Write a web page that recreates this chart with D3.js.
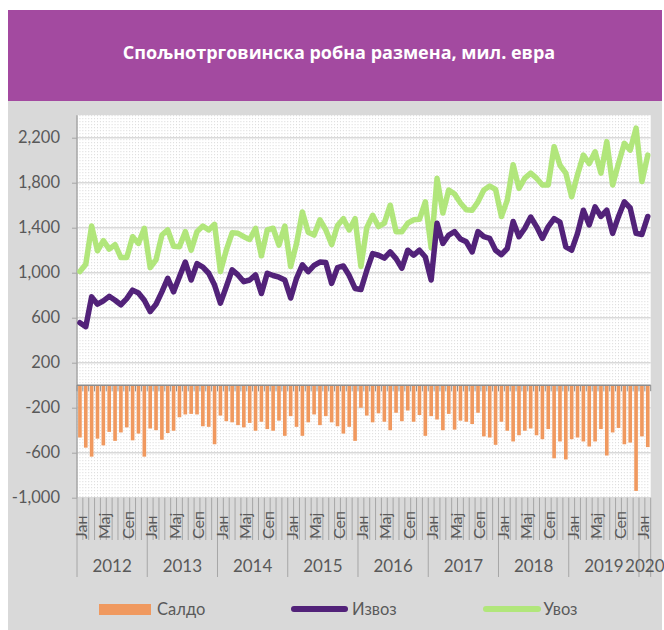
<!DOCTYPE html>
<html>
<head>
<meta charset="utf-8">
<script src="https://cdn.jsdelivr.net/npm/d3@7"></script>
<style>
  body { margin: 0; background: #fff; }
  text { font-family: Lato, "Open Sans", sans-serif; }
</style>
</head>
<body>
<div id="chart"></div>
<script>
// Data, mil. EUR, monthly Jan 2012 - Feb 2020
var years = [2012, 2013, 2014, 2015, 2016, 2017, 2018, 2019, 2020];
var monthNames = ["Јан", "Феб", "Мар", "Апр", "Мај", "Јун", "Јул", "Авг", "Сеп", "Окт", "Нов", "Дец"];
var seriesNames = ["Салдо", "Извоз", "Увоз"];
var yTicks = [-1000, -600, -200, 200, 600, 1000, 1400, 1800, 2200];

var izvoz = [555, 520, 785, 720, 750, 790, 755, 715, 770, 845, 820, 755,
  655, 720, 830, 950, 830, 965, 1095, 935, 1080, 1050, 995, 890,
  730, 875, 1025, 980, 920, 935, 980, 815, 995, 975, 960, 935,
  775, 950, 1070, 1010, 1065, 1095, 1090, 905, 1045, 1060, 975, 860,
  850, 1020, 1170, 1155, 1130, 1185, 1125, 1040, 1200, 1155, 1200, 1140,
  935, 1440, 1260, 1335, 1365, 1300, 1275, 1185, 1365, 1320, 1305, 1200,
  1160, 1215, 1455, 1320, 1395, 1495, 1410, 1305, 1410, 1480, 1450, 1230,
  1200, 1350, 1555, 1425, 1585, 1500, 1555, 1350, 1500, 1630, 1575, 1350,
  1340, 1500];

var uvoz = [1010, 1075, 1415, 1195, 1285, 1210, 1250, 1135, 1135, 1320, 1260, 1395,
  1045, 1115, 1335, 1380, 1235, 1230, 1365, 1200, 1365, 1415, 1380, 1430,
  1010, 1200, 1355, 1350, 1320, 1295, 1395, 1150, 1380, 1395, 1245, 1415,
  1055, 1260, 1540, 1360, 1335, 1470, 1380, 1250, 1420, 1480, 1380, 1480,
  1055, 1400, 1510, 1410, 1440, 1600, 1365, 1365, 1440, 1470, 1475, 1630,
  1220, 1840, 1530, 1735, 1700, 1620, 1560, 1555, 1630, 1735, 1770, 1740,
  1500, 1645, 1960, 1750, 1840, 1885, 1840, 1780, 1780, 2120, 1955, 1885,
  1675, 1870, 2045, 1970, 2075, 1885, 2165, 1780, 1970, 2150, 2090, 2285,
  1810, 2045];

var saldo = [-465, -555, -635, -475, -535, -415, -495, -420, -375, -490, -430, -635,
  -385, -400, -485, -425, -405, -285, -260, -255, -260, -365, -370, -525,
  -270, -320, -330, -355, -375, -335, -405, -325, -390, -405, -315, -450,
  -275, -370, -450, -330, -260, -355, -275, -330, -365, -430, -370, -495,
  -200, -270, -330, -250, -325, -400, -245, -320, -225, -325, -265, -450,
  -275, -305, -400, -255, -395, -315, -325, -345, -245, -455, -465, -530,
  -325, -405, -500, -445, -405, -385, -445, -480, -390, -650, -500, -660,
  -480, -465, -500, -545, -500, -390, -625, -420, -380, -525, -510, -940,
  -455, -550];

var W = 664, H = 630;
var plot = {left: 77, right: 650.7, top: 115.2, bottom: 497.7};
var colors = {saldo: "#F0995F", izvoz: "#522279", uvoz: "#B1E67B", text: "#595959"};

var fmt = d3.formatLocale({decimal: ".", thousands: ",", grouping: [3], currency: ["", ""], minus: "-"}).format(",");

var svg = d3.select("#chart").append("svg")
  .attr("width", W)
  .attr("height", H);

// Banner + panel
svg.append("rect").attr("x", 8).attr("y", 10).attr("width", 654).attr("height", 91).attr("fill", "#A34AA0");
svg.append("rect").attr("x", 8).attr("y", 101).attr("width", 654).attr("height", H - 101).attr("fill", "#D9D9D9");

svg.append("text")
  .attr("x", 339).attr("y", 59)
  .attr("text-anchor", "middle")
  .attr("fill", "#fff")
  .style("font-family", "'Open Sans', sans-serif")
  .style("font-weight", "bold")
  .style("font-size", "18px")
  .text("Спољнотрговинска робна размена, мил. евра");

// Scales
var idx = d3.range(izvoz.length);
var x = d3.scaleBand().domain(idx).range([plot.left, plot.right]);
var y = d3.scaleLinear().domain([-1000, 2400]).range([plot.bottom, plot.top]);
var bw = x.bandwidth();

// Plot area
svg.append("rect")
  .attr("x", plot.left).attr("y", plot.top)
  .attr("width", plot.right - plot.left).attr("height", plot.bottom - plot.top)
  .attr("fill", "#fff");

// dotted texture
var dots = [];
idx.forEach(function(i) { dots.push(x(i)); dots.push(x(i) + bw / 2); });
svg.append("g").selectAll("line").data(dots).enter().append("line")
  .attr("x1", function(d) { return d; }).attr("x2", function(d) { return d; })
  .attr("y1", plot.top).attr("y2", plot.bottom)
  .attr("stroke", "#d6d6d6")
  .attr("stroke-dasharray", "1,2");

// horizontal gridlines
svg.append("g").selectAll("line").data(yTicks).enter().append("line")
  .attr("x1", plot.left).attr("x2", plot.right)
  .attr("y1", function(d) { return y(d); }).attr("y2", function(d) { return y(d); })
  .attr("stroke", "#D9D9D9")
  .attr("stroke-width", 1.5);

// Y axis
var yAxis = svg.append("g")
  .attr("transform", "translate(" + plot.left + ",0)")
  .call(d3.axisLeft(y).tickValues(yTicks).tickSize(5).tickPadding(12).tickFormat(fmt));
yAxis.select(".domain").remove();
yAxis.selectAll(".tick line").attr("stroke", "#a6a6a6");
yAxis.selectAll(".tick text")
  .attr("fill", colors.text)
  .style("font-family", "Lato, sans-serif")
  .style("font-size", "16.5px");
svg.append("line")
  .attr("x1", plot.left).attr("x2", plot.left)
  .attr("y1", plot.top).attr("y2", plot.bottom)
  .attr("stroke", "#a6a6a6").attr("stroke-width", 1.5);

// Saldo bars
svg.append("g").selectAll("rect").data(saldo).enter().append("rect")
  .attr("x", function(d, i) { return x(i) + bw * 0.19; })
  .attr("width", bw * 0.62)
  .attr("y", function(d) { return y(Math.max(0, d)); })
  .attr("height", function(d) { return Math.abs(y(d) - y(0)); })
  .attr("fill", colors.saldo);

// zero line with ticks
svg.append("line")
  .attr("x1", plot.left).attr("x2", plot.right)
  .attr("y1", y(0)).attr("y2", y(0))
  .attr("stroke", "#8c8c8c").attr("stroke-width", 1.5);
svg.append("g").selectAll("line").data(idx.concat([idx.length])).enter().append("line")
  .attr("x1", function(i) { return plot.left + i * bw; })
  .attr("x2", function(i) { return plot.left + i * bw; })
  .attr("y1", y(0)).attr("y2", y(0) + 6)
  .attr("stroke", "#8c8c8c");

// Lines
var line = d3.line()
  .x(function(d, i) { return x(i) + bw / 2; })
  .y(function(d) { return y(d); });

svg.append("path").datum(uvoz)
  .attr("d", line)
  .attr("fill", "none")
  .attr("stroke", colors.uvoz)
  .attr("stroke-width", 5.5)
  .attr("stroke-linejoin", "round")
  .attr("stroke-linecap", "round");

svg.append("path").datum(izvoz)
  .attr("d", line)
  .attr("fill", "none")
  .attr("stroke", colors.izvoz)
  .attr("stroke-width", 5.5)
  .attr("stroke-linejoin", "round")
  .attr("stroke-linecap", "round");

// Category axis (months + years)
var xa = svg.append("g");
xa.selectAll("line.m").data(idx.concat([idx.length])).enter().append("line")
  .attr("class", "m")
  .attr("x1", function(i) { return plot.left + i * bw; })
  .attr("x2", function(i) { return plot.left + i * bw; })
  .attr("y1", plot.bottom)
  .attr("y2", function(i) { return (i % 12 === 0 || i === idx.length) ? 577 : 540; })
  .attr("stroke", "#a6a6a6");

xa.selectAll("text.m").data(idx.filter(function(i) { return i % 4 === 0; })).enter().append("text")
  .attr("class", "m")
  .attr("transform", function(i) { return "translate(" + (x(i) + bw / 2 + 1.5) + ",539) rotate(-90)"; })
  .attr("dy", "0.35em")
  .attr("fill", colors.text)
  .style("font-size", "16px")
  .text(function(i) { return monthNames[i % 12]; });

xa.selectAll("text.y").data(years).enter().append("text")
  .attr("class", "y")
  .attr("x", function(d, k) {
    var a = plot.left + k * 12 * bw;
    var b = Math.min(plot.right, a + 12 * bw);
    return (a + b) / 2;
  })
  .attr("y", 571.5)
  .attr("text-anchor", "middle")
  .attr("fill", colors.text)
  .style("font-size", "17px")
  .text(function(d) { return d; });

// Legend
var lg = svg.append("g").style("font-size", "16.5px").attr("fill", colors.text);
lg.append("rect").attr("x", 99).attr("y", 604).attr("width", 52).attr("height", 11).attr("fill", colors.saldo);
lg.append("text").attr("x", 157).attr("y", 615).text(seriesNames[0]);
lg.append("line").attr("x1", 294).attr("x2", 345).attr("y1", 609).attr("y2", 609)
  .attr("stroke", colors.izvoz).attr("stroke-width", 6).attr("stroke-linecap", "round");
lg.append("text").attr("x", 352).attr("y", 615).text(seriesNames[1]);
lg.append("line").attr("x1", 486).attr("x2", 538).attr("y1", 609).attr("y2", 609)
  .attr("stroke", colors.uvoz).attr("stroke-width", 6).attr("stroke-linecap", "round");
lg.append("text").attr("x", 543.5).attr("y", 615).text(seriesNames[2]);
</script>
</body>
</html>
